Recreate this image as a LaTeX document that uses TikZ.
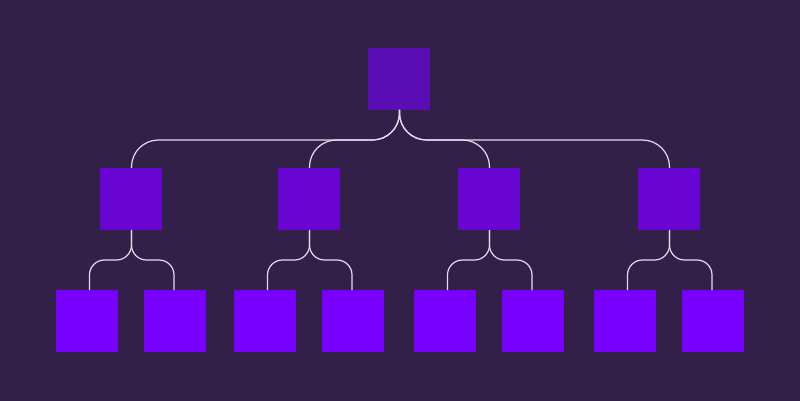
\documentclass[tikz,border=0pt]{standalone}
\usetikzlibrary{calc}
\definecolor{bgc}{HTML}{332049}
\definecolor{rootc}{HTML}{5A0DB5}
\definecolor{midc}{HTML}{6905D3}
\definecolor{leafc}{HTML}{7700FF}
\definecolor{linec}{HTML}{E4DCEF}
\begin{document}
\begin{tikzpicture}[x=1pt,y=-1pt,
  box/.style={minimum size=62pt,inner sep=0pt,outer sep=0pt,draw=none},
  rootbox/.style={box,fill=rootc},
  midbox/.style={box,fill=midc},
  leafbox/.style={box,fill=leafc},
  conn/.style={draw=linec,line width=1.2pt},
  topconn/.style={conn,rounded corners=27pt},
  subconn/.style={conn,rounded corners=15pt}]
\fill[bgc] (0,0) rectangle (800,401);
\useasboundingbox (0,0) rectangle (800,401);
\node[rootbox] (r) at (399,79) {};
\node[midbox] (a1) at (131,199) {};
\node[midbox] (a2) at (309,199) {};
\node[midbox] (a3) at (489,199) {};
\node[midbox] (a4) at (669,199) {};
\node[leafbox] (b1) at (87,321) {};
\node[leafbox] (b2) at (175,321) {};
\node[leafbox] (b3) at (265,321) {};
\node[leafbox] (b4) at (353,321) {};
\node[leafbox] (b5) at (445,321) {};
\node[leafbox] (b6) at (533,321) {};
\node[leafbox] (b7) at (625,321) {};
\node[leafbox] (b8) at (713,321) {};
% top level connectors
\foreach \c/\dx in {a1/0.5,a2/0.5,a3/0.5,a4/0.5}{
  \draw[topconn] ([xshift=0.5pt]r.south) -- ++(0,30) -| ([xshift=\dx pt]\c.north);
}
% sub level connectors
\foreach \p/\l/\rr in {a1/b1/b2,a2/b3/b4,a3/b5/b6,a4/b7/b8}{
  \draw[subconn] ([xshift=0.5pt]\p.south) -- ++(0,30) -| ([xshift=2.5pt]\l.north);
  \draw[subconn] ([xshift=0.5pt]\p.south) -- ++(0,30) -| ([xshift=-1pt]\rr.north);
}
\end{tikzpicture}
\end{document}
